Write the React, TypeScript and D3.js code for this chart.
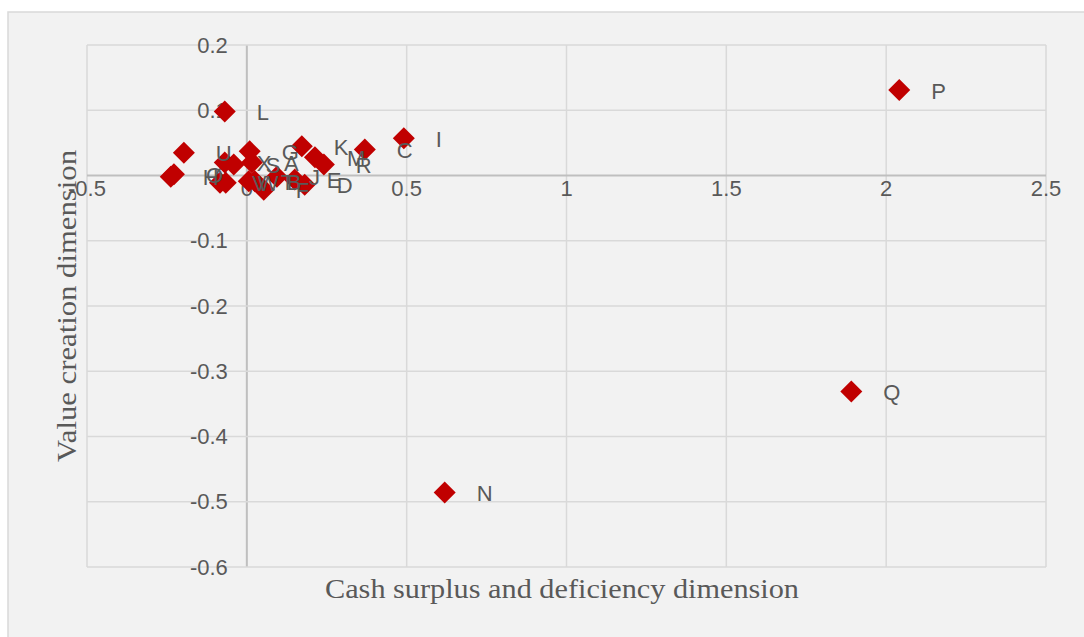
import React from "react";
import * as d3 from "d3";

const labels = ["U","O","H","X","S","G","A","V","W","B","T","F","J","E","D","M","R","K","C","I","L","N","Q","P"];
const xValues = [-0.197,-0.228,-0.238,-0.069,-0.041,0.009,0.016,-0.084,-0.066,0.025,0.006,0.053,0.094,0.150,0.181,0.213,0.241,0.172,0.369,0.491,-0.069,0.619,1.891,2.041];
const yValues = [0.035,0.002,-0.002,0.020,0.017,0.037,0.020,-0.011,-0.011,-0.009,-0.009,-0.022,-0.002,-0.006,-0.014,0.028,0.017,0.045,0.040,0.057,0.098,-0.486,-0.331,0.131];
const xTicks = [-0.5, 0, 0.5, 1, 1.5, 2, 2.5];
const yTicks = [0.2, 0.1, 0, -0.1, -0.2, -0.3, -0.4, -0.5, -0.6];

const W = 1084, H = 637;
const left = 87, right = 1046, top = 45, bottom = 567;

export default function App() {
  const x = d3.scaleLinear().domain([-0.5, 2.5]).range([left, right]);
  const y = d3.scaleLinear().domain([-0.6, 0.2]).range([bottom, top]);
  const x0 = x(0), y0 = y(0);
  const diamond = "M0,-11L11,0L0,11L-11,0Z";
  const grey = "#595959";
  const tickFont = "Liberation Sans Narrow, Liberation Sans, Arial";
  const fmt = (v: number) => (v === 0 ? "0" : String(v));
  return (
    <svg width={W} height={H} style={{ position: "absolute", left: 0, top: 0 }}>
      <rect x={0} y={0} width={W} height={H} fill="#ffffff" />
      <rect x={8} y={12} width={W} height={H} fill="#f2f2f2" stroke="#d9d9d9" strokeWidth={1.5} />
      {xTicks.map((t) => (
        <line key={"gx" + t} x1={x(t)} x2={x(t)} y1={top} y2={bottom} stroke={t === 0 ? "#bfbfbf" : "#d9d9d9"} strokeWidth={t === 0 ? 2 : 1.5} />
      ))}
      {yTicks.map((t) => (
        <line key={"gy" + t} x1={left} x2={right} y1={y(t)} y2={y(t)} stroke={t === 0 ? "#bfbfbf" : "#d9d9d9"} strokeWidth={t === 0 ? 2 : 1.5} />
      ))}
      {yTicks.map((t) => (
        <text key={"ty" + t} x={x0 - 19} y={y(t)} textAnchor="end" dominantBaseline="central" fontFamily={tickFont} fontSize={22} fill={grey}>{fmt(t)}</text>
      ))}
      {xTicks.map((t) => (
        <text key={"tx" + t} x={x(t)} y={y0 + 13} textAnchor="middle" dominantBaseline="central" fontFamily={tickFont} fontSize={22} fill={grey}>{fmt(t)}</text>
      ))}
      {labels.map((l, i) => (
        <path key={"m" + l} d={diamond} transform={`translate(${x(xValues[i])},${y(yValues[i])})`} fill="#c00000" />
      ))}
      {labels.map((l, i) => (
        <text key={"l" + l} x={x(xValues[i]) + 32} y={y(yValues[i]) + 1} dominantBaseline="central" fontFamily="Liberation Sans, Arial" fontSize={22} fill={grey}>{l}</text>
      ))}
      <text x={562} y={589} textAnchor="middle" dominantBaseline="central" fontFamily="Liberation Serif, Times New Roman" fontSize={27} fill={grey} textLength={474} lengthAdjust="spacingAndGlyphs">Cash surplus and deficiency dimension</text>
      <text transform="translate(67,306) rotate(-90)" textAnchor="middle" dominantBaseline="central" fontFamily="Liberation Serif, Times New Roman" fontSize={27} fill={grey} textLength={312} lengthAdjust="spacingAndGlyphs">Value creation dimension</text>
    </svg>
  );
}
